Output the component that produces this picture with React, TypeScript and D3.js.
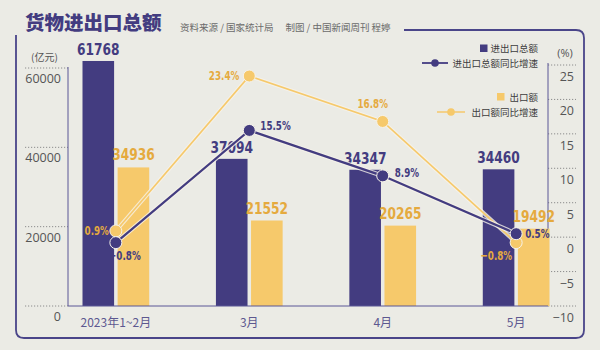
import * as d3 from "d3";

// values
const categories = ["2023年1~2月", "3月", "4月", "5月"];
const totalValues = [61768, 37094, 34347, 34460];
const exportValues = [34936, 21552, 20265, 19492];
const totalGrowth = [-0.8, 15.5, 8.9, 0.5];
const exportGrowth = [0.9, 23.4, 16.8, -0.8];
const leftTicks = [0, 20000, 40000, 60000];
const rightTicks = [-10, -5, 0, 5, 10, 15, 20, 25];

// where each percent label sits relative to its dot
const totalLabelPos = [
  { dx: 9, dy: 17, anchor: "middle" },
  { dx: 11, dy: 0, anchor: "start" },
  { dx: 12, dy: 1, anchor: "start" },
  { dx: 9, dy: 4, anchor: "start" },
];
const exportLabelPos = [
  { dx: -7, dy: 4, anchor: "end" },
  { dx: -10, dy: 4, anchor: "end" },
  { dx: -10, dy: -13, anchor: "middle" },
  { dx: -4, dy: 17, anchor: "end" },
];

const PURPLE = "#433c80";
const YELLOW = "#f6c96b";
const YELLOW_TEXT = "#e5aa3e";
const BG = "#ebebe5";
const GRID = "#8c8c8c";
const AXIS = "#5b5796";
const COND = "'Liberation Sans Narrow', 'DejaVu Sans Condensed', 'Roboto', sans-serif";
const CJK = "'Noto Sans CJK SC', 'Noto Sans', sans-serif";
const NUM = "'Open Sans', 'Noto Sans', sans-serif";

const margin = { left: 68, right: 548, top: 65, bottom: 306 };

const fmtPct = (v: number) => (v < 0 ? "−" : "") + Math.abs(v).toFixed(1) + "%";
const fmtTick = (v: number) => (v < 0 ? "−" + Math.abs(v) : String(v));

// condensed bold number, squeezed horizontally like the original display face
const CondText = ({ x, y, text, size, fill, anchor, sx }) => (
  <text
    transform={`translate(${x},${y}) scale(${sx},1)`}
    textAnchor={anchor}
    fontFamily={COND}
    fontWeight="bold"
    fontSize={size}
    fill={fill}
  >
    {text}
  </text>
);

const App = () => {
  const width = 600;
  const height = 350;

  const x = d3
    .scaleBand()
    .domain(categories)
    .range([82.5, 549.5])
    .paddingInner(0.5)
    .paddingOuter(0);
  const xSub = d3
    .scaleBand()
    .domain(["total", "export"])
    .range([0, x.bandwidth()])
    .paddingInner(0.1);

  const yLeft = d3.scaleLinear().domain([0, 60000]).range([margin.bottom, 68]);
  const yRight = d3.scaleLinear().domain([-10, 25]).range([margin.bottom, margin.top]);

  const cx = (c: string) => (x(c) as number) + x.bandwidth() / 2;

  const line = d3
    .line<number>()
    .x((_, i) => cx(categories[i]))
    .y((d) => yRight(d));

  const framePath =
    "M16,35 L16,330 Q16,338 24,338 L576,338 Q584,338 584,330 L584,38 Q584,30 576,30 L404,30";

  return (
    <svg
      width={width}
      height={height}
      style={{ position: "fixed", left: 0, top: 0, background: BG }}
    >
      <rect width={width} height={height} fill={BG} />
      <path d={framePath} fill="none" stroke="#4a4589" strokeWidth={1.8} />

      {/* title */}
      <text x={25} y={30} fontFamily={CJK} fontWeight={900} fontSize={19.5} fill={PURPLE}>
        货物进出口总额
      </text>
      <text x={180} y={31} fontFamily={CJK} fontSize={9.5} fill="#6a6a6a">
        资料来源 / 国家统计局
        <tspan dx={12}>制图 / 中国新闻周刊  程婷</tspan>
      </text>

      {/* units */}
      <text x={31} y={61} fontFamily={CJK} fontSize={10} fill="#555">
        (亿元)
      </text>
      <text x={565} y={57} textAnchor="middle" fontFamily={NUM} fontSize={11} fill="#555">
        (%)
      </text>

      {/* left axis */}
      {leftTicks.map((t) => (
        <g key={"l" + t}>
          <line x1={25} x2={margin.left} y1={yLeft(t)} y2={yLeft(t)} stroke={GRID} strokeDasharray="1.2,1.8" />
          <text x={61} y={yLeft(t) + 15} textAnchor="end" fontFamily={NUM} fontSize={12.5} fill="#555">
            {t}
          </text>
        </g>
      ))}
      <line x1={margin.left} x2={margin.left} y1={67} y2={margin.bottom} stroke={AXIS} strokeWidth={1} />

      {/* right axis */}
      {rightTicks.map((t) => (
        <g key={"r" + t}>
          <line x1={margin.right} x2={576} y1={yRight(t)} y2={yRight(t)} stroke={GRID} strokeDasharray="1.2,1.8" />
          <text x={574} y={yRight(t) + 16} textAnchor="end" fontFamily={NUM} fontSize={12.5} fill="#555">
            {fmtTick(t)}
          </text>
        </g>
      ))}
      <line x1={margin.right} x2={margin.right} y1={63} y2={margin.bottom} stroke={AXIS} strokeWidth={1} />

      {/* bars */}
      {categories.map((c, i) => (
        <g key={c} transform={`translate(${x(c)},0)`}>
          <rect
            x={xSub("total")}
            y={yLeft(totalValues[i])}
            width={xSub.bandwidth()}
            height={margin.bottom - yLeft(totalValues[i])}
            fill={PURPLE}
          />
          <rect
            x={xSub("export")}
            y={yLeft(exportValues[i])}
            width={xSub.bandwidth()}
            height={margin.bottom - yLeft(exportValues[i])}
            fill={YELLOW}
          />
          <CondText
            x={(xSub("total") as number) + xSub.bandwidth() / 2}
            y={yLeft(totalValues[i]) - 6}
            text={totalValues[i]}
            size={16}
            fill={PURPLE}
            anchor="middle"
            sx={0.85}
          />
          <CondText
            x={(xSub("export") as number) + xSub.bandwidth() / 2}
            y={yLeft(exportValues[i]) - 7}
            text={exportValues[i]}
            size={16}
            fill={YELLOW_TEXT}
            anchor="middle"
            sx={0.85}
          />
        </g>
      ))}
      <line x1={margin.left} x2={margin.right} y1={margin.bottom} y2={margin.bottom} stroke={AXIS} strokeWidth={1} />

      {/* x labels */}
      {categories.map((c) => (
        <text key={"x" + c} x={cx(c)} y={327} textAnchor="middle" fontFamily={CJK} fontSize={12} fill="#5d5890">
          {c}
        </text>
      ))}

      {/* growth lines */}
      <path d={line(exportGrowth)} fill="none" stroke="#f6f3ea" strokeWidth={4} opacity={0.8} />
      <path d={line(exportGrowth)} fill="none" stroke={YELLOW} strokeWidth={1.7} />
      <path d={line(totalGrowth)} fill="none" stroke="#f6f3ea" strokeWidth={4.5} opacity={0.8} />
      <path d={line(totalGrowth)} fill="none" stroke={PURPLE} strokeWidth={2.2} />

      {categories.map((c, i) => (
        <g key={"p" + c}>
          <circle cx={cx(c)} cy={yRight(exportGrowth[i])} r={6} fill={YELLOW} stroke="#f6f3ea" strokeWidth={1} />
          <circle cx={cx(c)} cy={yRight(totalGrowth[i])} r={6} fill={PURPLE} stroke="#f6f3ea" strokeWidth={1} />
          <CondText
            x={cx(c) + exportLabelPos[i].dx}
            y={yRight(exportGrowth[i]) + exportLabelPos[i].dy}
            text={fmtPct(exportGrowth[i])}
            size={13}
            fill={YELLOW_TEXT}
            anchor={exportLabelPos[i].anchor}
            sx={0.75}
          />
          <CondText
            x={cx(c) + totalLabelPos[i].dx}
            y={yRight(totalGrowth[i]) + totalLabelPos[i].dy}
            text={fmtPct(totalGrowth[i])}
            size={13}
            fill={PURPLE}
            anchor={totalLabelPos[i].anchor}
            sx={0.75}
          />
        </g>
      ))}

      {/* legend */}
      <g fontFamily={CJK} fontSize={9.5} fill="#3d3d3d">
        <rect x={480} y={44.5} width={7.5} height={7.5} fill={PURPLE} />
        <text x={538} y={51.5} textAnchor="end">进出口总额</text>
        <line x1={422} x2={448} y1={63} y2={63} stroke={PURPLE} strokeWidth={1.8} />
        <circle cx={435} cy={63} r={3.8} fill={PURPLE} />
        <text x={538} y={66.5} textAnchor="end">进出口总额同比增速</text>

        <rect x={497} y={93} width={7.5} height={7.5} fill={YELLOW} />
        <text x={538} y={100.5} textAnchor="end">出口额</text>
        <line x1={437} x2={465} y1={112} y2={112} stroke={YELLOW} strokeWidth={1.5} />
        <circle cx={451} cy={112} r={3.8} fill={YELLOW} />
        <text x={538} y={115.5} textAnchor="end">出口额同比增速</text>
      </g>
    </svg>
  );
};

export default App;
